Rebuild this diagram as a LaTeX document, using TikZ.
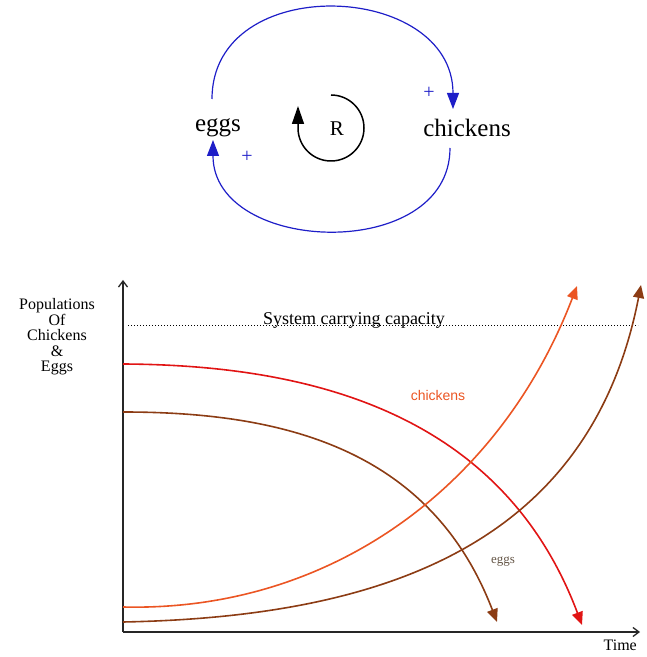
\documentclass[tikz,border=0pt]{standalone}
\usepackage{fontspec}
\setmainfont{Liberation Serif}
\newfontfamily\arialfont{Liberation Sans}
\usetikzlibrary{arrows.meta,positioning}
\definecolor{loopblue}{RGB}{30,30,200}
\definecolor{chickred}{RGB}{225,20,20}
\definecolor{chickorange}{RGB}{235,85,35}
\definecolor{eggbrown}{RGB}{140,60,20}
\definecolor{labelgrey}{RGB}{100,85,70}

\begin{document}
\begin{tikzpicture}[x=1pt,y=1pt,
  var/.style={inner sep=0pt,font=\fontsize{25}{27}\selectfont},
  link/.style={draw=loopblue,line width=1.2pt,-{Triangle[length=16pt,width=12pt]}},
  sign/.style={inner sep=0pt,text=loopblue,font=\fontsize{20}{20}\selectfont},
  axis/.style={draw=black!85,line width=1.3pt,-{Straight Barb[length=6pt,width=9pt]}},
  pop/.style={draw=#1,line width=1.6pt,-{Triangle[length=13pt,width=11pt]}},
  small/.style={inner sep=0pt,font=\fontsize{16}{15.5}\selectfont}]
\useasboundingbox (0,0) rectangle (647,657);
% causal loop
\node[var] (e) at (218,529) {eggs};
\node[var] (c) at (467,529) {chickens};
\node[inner sep=0pt,font=\fontsize{21}{21}\selectfont] (r) at (337,528) {R};
\draw[link] ([shift={(-6,29)}]e.center) .. controls +(0,128) and +(0,128) .. ([shift={(-14,19)}]c.center);
\draw[link] ([shift={(-17,-20)}]c.center) .. controls +(0,-115) and +(0,-115) .. ([shift={(-5,-12)}]e.center);
\node[sign] (p1) at (429,564) {+};
\node[sign] (p2) at (247,500) {+};
\draw[line width=1.5pt,-{Triangle[length=18pt,width=12pt]}] ([shift={(-6,34)}]r.center) arc[start angle=90,end angle=-180,radius=33] -- ++(0,22);
% graph
\coordinate (o) at (123,25);
\draw[axis] (o) -- ++(0,352);
\draw[axis] (o) -- ++(517,0);
\node[small,anchor=north east] (t) at (637,17) {Time};
\node[small,align=center] (yl) at (57,320) {Populations\\Of\\Chickens\\\&\\Eggs};
\draw[dotted,line width=1pt] (128,331) -- (638,331);
\node[inner sep=0pt,anchor=base,font=\fontsize{18}{18}\selectfont] (cap) at (354,332) {System carrying capacity};
\draw[pop=chickred] (123,293) .. controls (300,292) and (500,250) .. (582,32);
\draw[pop=eggbrown] (123,245) .. controls (280,245) and (430,210) .. (497,35);
\draw[pop=chickorange] (123,50) .. controls (330,45) and (500,170) .. (577,371);
\draw[pop=eggbrown] (123,35) .. controls (380,40) and (590,110) .. (641,372);
\node[inner sep=0pt,text=chickorange,font=\arialfont\fontsize{14}{14}\selectfont] (lc) at (438,262) {chickens};
\node[inner sep=0pt,text=labelgrey,font=\fontsize{13}{13}\selectfont] (le) at (503,95) {eggs};
\end{tikzpicture}
\end{document}
